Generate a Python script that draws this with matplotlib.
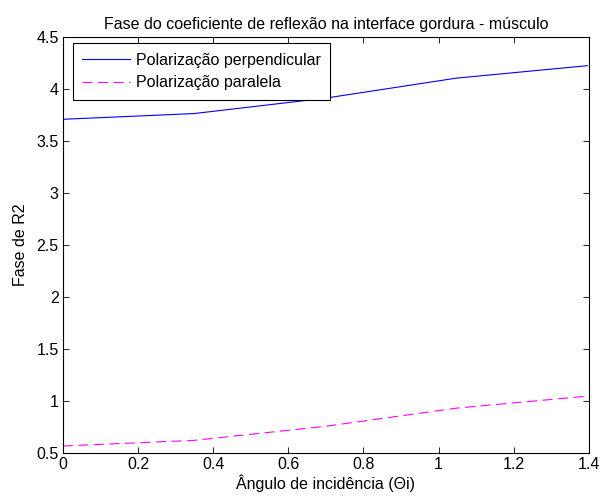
import numpy as np
import matplotlib

matplotlib.use("Agg")
import matplotlib.pyplot as plt  # noqa: E402

plt.rcParams["font.family"] = ["Liberation Sans", "DejaVu Sans"]
plt.rcParams["font.size"] = 11.5

# incidence angle in radians: 0, 20, 40, 60, 80 degrees
theta_i = np.deg2rad([0, 20, 40, 60, 80])
phase_perp = [3.71, 3.765, 3.913, 4.106, 4.226]
phase_par = [0.566, 0.62, 0.755, 0.93, 1.046]

x_ticks = [0, 0.2, 0.4, 0.6, 0.8, 1, 1.2, 1.4]
x_tick_labels = ["0", "0.2", "0.4", "0.6", "0.8", "1", "1.2", "1.4"]
y_ticks = [0.5, 1, 1.5, 2, 2.5, 3, 3.5, 4, 4.5]
y_tick_labels = ["0.5", "1", "1.5", "2", "2.5", "3", "3.5", "4", "4.5"]

fs = 11.5

fig = plt.figure(figsize=(6.04, 4.96), dpi=100)
ax = fig.add_axes((0.104, 0.087, 0.871, 0.838))

ax.plot(theta_i, phase_perp, "-", color=(0, 0, 1), lw=0.8,
        label="Polarização perpendicular")
ax.plot(theta_i, phase_par, "--", color=(1, 0, 1), lw=0.8, dashes=(9, 5),
        label="Polarização paralela")

ax.set_xlim(0, 1.4)
ax.set_ylim(0.5, 4.5)
ax.set_xticks(x_ticks)
ax.set_xticklabels(x_tick_labels)
ax.set_yticks(y_ticks)
ax.set_yticklabels(y_tick_labels)
ax.tick_params(direction="in", top=True, right=True, length=4.5, width=0.6,
               labelsize=fs, pad=3)
for s in ax.spines.values():
    s.set_linewidth(0.8)

ax.set_title("Fase do coeficiente de reflexão na interface gordura - músculo",
             fontsize=fs, pad=6)
ax.set_xlabel("Ângulo de incidência (\u0398i)", fontsize=fs, labelpad=2)
ax.set_ylabel("Fase de R2", fontsize=fs, labelpad=6)

leg = ax.legend(loc="upper left", bbox_to_anchor=(0.019, 0.985), fontsize=fs,
                fancybox=False, edgecolor="black", framealpha=1,
                handlelength=3.0, handletextpad=0.35, borderpad=0.6,
                labelspacing=0.45, borderaxespad=0)
leg.get_frame().set_linewidth(0.8)

fig.savefig("out.png", dpi=100)
